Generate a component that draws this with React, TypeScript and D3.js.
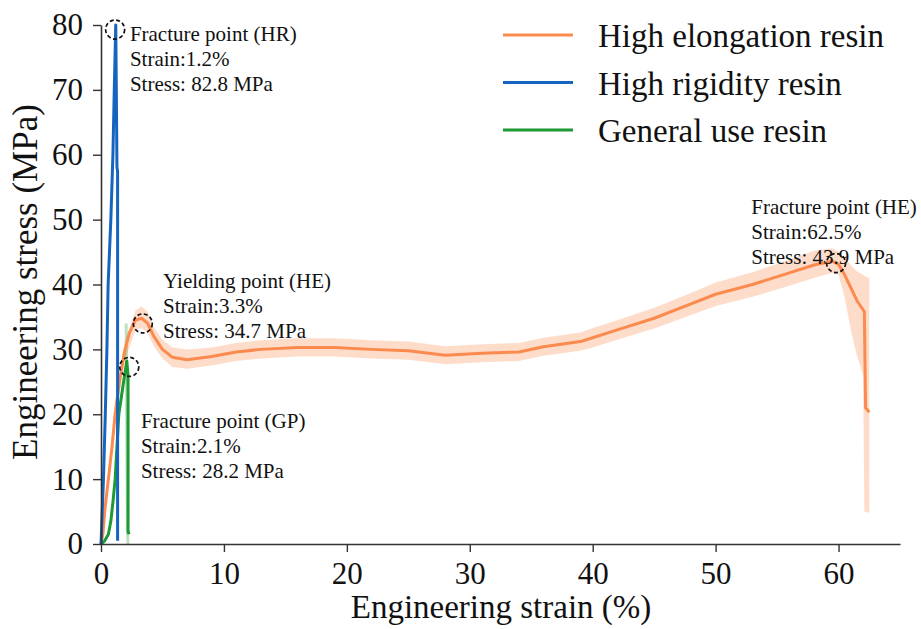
import React, { useRef, useEffect } from 'react';
import * as d3 from 'd3';

// strain (%), stress (MPa)
const heMean: [number, number][] = [
  [0, 0], [0.15, 1.5], [0.3, 5], [0.6, 10], [0.9, 15], [1.15, 20], [1.5, 25], [1.9, 29.5],
  [2.3, 32.5], [2.8, 34.5], [3.3, 34.8], [3.8, 34], [4.3, 32], [5, 30], [5.8, 28.8], [7, 28.4],
  [9, 28.9], [11, 29.6], [13, 30], [16, 30.3], [19, 30.3], [22, 30], [25, 29.8], [28, 29.1],
  [31, 29.4], [34, 29.6], [36, 30.4], [39, 31.2], [40, 31.8], [42, 33], [45, 34.8], [48, 37],
  [50, 38.5], [53, 40], [56, 41.8], [58, 43], [59.5, 43.6], [60, 43.1], [60.5, 41.5],
  [61, 39.5], [61.5, 37.5], [62.1, 35.8], [62.2, 21], [62.5, 20.3],
];

// strain, lower, upper
const heBand: [number, number, number][] = [
  [0, 0, 0], [0.3, 4, 6], [0.6, 8.5, 11.5], [1.15, 18.5, 21.5], [1.9, 28, 31], [2.8, 33, 36],
  [3.3, 33.3, 36.6], [3.8, 32.5, 35.8], [4.3, 30.5, 33.5], [5, 28.6, 31.5], [5.8, 27.3, 30.3],
  [7, 27, 30], [9, 27.5, 30.3], [11, 28.2, 31], [13, 28.6, 31.4], [16, 28.9, 31.7],
  [19, 28.9, 31.7], [22, 28.6, 31.4], [25, 28.4, 31.2], [28, 27.7, 30.5], [31, 28, 30.8],
  [34, 28.2, 31], [36, 29, 31.8], [39, 29.8, 32.6], [40, 30.3, 33.3], [42, 31.5, 34.5],
  [45, 33.2, 36.4], [48, 35.3, 38.7], [50, 36.7, 40.3], [53, 38.1, 41.9], [56, 39.8, 43.8],
  [58, 41, 45.2], [59.5, 41.8, 45.6], [60, 41.5, 45], [60.5, 38, 44], [61, 33, 43],
  [61.5, 29, 42], [62, 26, 41.5], [62.1, 5, 41.3], [62.5, 4.8, 41],
];

const hrMean: [number, number][] = [
  [0, 0], [0.2, 10], [0.35, 20], [0.48, 30], [0.58, 40], [0.8, 50], [0.97, 60], [1.08, 70],
  [1.2, 80], [1.3, 58], [1.35, 57.5], [1.35, 0.5],
];

const gpMean: [number, number][] = [
  [0, 0], [0.3, 0.5], [0.6, 1.5], [0.8, 3.5], [1.0, 7], [1.15, 10], [1.3, 15], [1.45, 20],
  [1.8, 24.5], [2.1, 28.2], [2.2, 26], [2.2, 2], [2.28, 1.5],
];

const gpBandEdge: [number, number][] = [[2.05, 34], [2.15, 2], [2.2, 0]];

const markers: [number, number][] = [[1.15, 79.3], [3.4, 34.0], [2.3, 27.3], [59.8, 43.3]];

const annotations = [
  { at: [2.35, 77.5], lines: ['Fracture point (HR)', 'Strain:1.2%', 'Stress: 82.8 MPa'] },
  { at: [5.05, 39.4], lines: ['Yielding point (HE)', 'Strain:3.3%', 'Stress: 34.7 MPa'] },
  { at: [3.25, 17.9], lines: ['Fracture point (GP)', 'Strain:2.1%', 'Stress: 28.2 MPa'] },
  { at: [52.9, 50.8], lines: ['Fracture point (HE)', 'Strain:62.5%', 'Stress: 43.9 MPa'] },
];

const legendNames = ['High elongation resin', 'High rigidity resin', 'General use resin'];
const colors = ['#fb8a4e', '#1565c0', '#1d9a33'];

const xTicks = [0, 10, 20, 30, 40, 50, 60];
const yTicks = [0, 10, 20, 30, 40, 50, 60, 70, 80];

const FONT = 'Liberation Serif, Times New Roman, serif';

const App = () => {
  const svgRef = useRef<SVGSVGElement>(null);

  useEffect(() => {
    const svg = d3.select(svgRef.current);
    svg.selectAll('*').remove();

    const x = d3.scaleLinear().domain([0, 65]).range([101, 900]);
    const y = d3.scaleLinear().domain([0, 80]).range([544, 25]);

    const line = d3
      .line<[number, number]>()
      .x((d) => x(d[0]))
      .y((d) => y(d[1]));

    const area = d3
      .area<[number, number, number]>()
      .x((d) => x(d[0]))
      .y0((d) => y(d[1]))
      .y1((d) => y(d[2]));

    // bands
    svg.append('path').datum(heBand).attr('d', area).attr('fill', colors[0]).attr('opacity', 0.3);
    svg
      .append('path')
      .datum(gpBandEdge)
      .attr('d', line)
      .attr('fill', 'none')
      .attr('stroke', colors[2])
      .attr('stroke-width', 3)
      .attr('opacity', 0.3);

    // mean curves
    const series: [[number, number][], string][] = [
      [heMean, colors[0]],
      [gpMean, colors[2]],
      [hrMean, colors[1]],
    ];
    series.forEach(([data, c]) => {
      svg
        .append('path')
        .datum(data)
        .attr('d', line)
        .attr('fill', 'none')
        .attr('stroke', c)
        .attr('stroke-width', 3)
        .attr('stroke-linejoin', 'round');
    });

    // axes
    const xAxis = svg
      .append('g')
      .attr('transform', 'translate(0,544)')
      .call(d3.axisBottom(x).tickValues(xTicks).tickSize(8).tickSizeOuter(0).tickPadding(10));
    const yAxis = svg
      .append('g')
      .attr('transform', 'translate(101,0)')
      .call(d3.axisLeft(y).tickValues(yTicks).tickSize(8).tickSizeOuter(0).tickPadding(10));

    [xAxis, yAxis].forEach((g) => {
      g.attr('font-family', FONT).attr('font-size', 31);
      g.select('.domain').attr('stroke', '#333').attr('stroke-width', 1.6);
      g.selectAll('.tick line').attr('stroke', '#333').attr('stroke-width', 1.4);
      g.selectAll('.tick text').attr('fill', '#111');
    });

    // dashed circles
    svg
      .selectAll('circle.mk')
      .data(markers)
      .join('circle')
      .attr('cx', (d) => x(d[0]))
      .attr('cy', (d) => y(d[1]))
      .attr('r', 9.5)
      .attr('fill', 'none')
      .attr('stroke', '#111')
      .attr('stroke-width', 1.7)
      .attr('stroke-dasharray', '4,2.5');

    // annotations
    annotations.forEach((a) => {
      const t = svg
        .append('text')
        .attr('x', x(a.at[0]))
        .attr('y', y(a.at[1]))
        .attr('font-family', FONT)
        .attr('font-size', 21)
        .attr('fill', '#111');
      a.lines.forEach((l, i) => {
        t.append('tspan').attr('x', x(a.at[0])).attr('dy', i === 0 ? 0 : 25).text(l);
      });
    });

    // legend
    const legend = svg.append('g').attr('transform', 'translate(503,35)');
    legendNames.forEach((name, i) => {
      const row = legend.append('g').attr('transform', `translate(0,${i * 47.5})`);
      row
        .append('line')
        .attr('x1', 0)
        .attr('x2', 70)
        .attr('stroke', colors[i])
        .attr('stroke-width', 3);
      row
        .append('text')
        .attr('x', 95)
        .attr('y', 12)
        .attr('font-family', FONT)
        .attr('font-size', 33)
        .attr('fill', '#111')
        .text(name);
    });

    // axis labels
    svg
      .append('text')
      .attr('x', 501)
      .attr('y', 618)
      .attr('text-anchor', 'middle')
      .attr('font-family', FONT)
      .attr('font-size', 33)
      .attr('fill', '#111')
      .text('Engineering strain (%)');
    svg
      .append('text')
      .attr('transform', 'translate(37,282) rotate(-90)')
      .attr('text-anchor', 'middle')
      .attr('font-family', FONT)
      .attr('font-size', 35)
      .attr('fill', '#111')
      .text('Engineering stress (MPa)');
  }, []);

  return (
    <svg
      ref={svgRef}
      width={921}
      height={629}
      style={{ position: 'absolute', left: 0, top: 0, background: '#fff' }}
    />
  );
};

export default App;
